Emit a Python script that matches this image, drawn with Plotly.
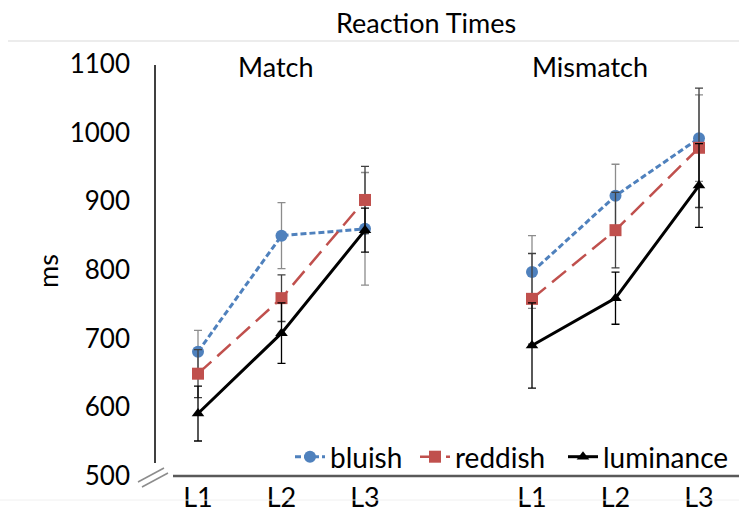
import plotly.graph_objects as go

# Reaction times (ms) per level, Match block then Mismatch block
levels = ["L1", "L2", "L3", "L1", "L2", "L3"]
level_pos = [0, 1, 2, 4, 5, 6]

bluish = [681, 850, 860, 797, 908, 992]
bluish_err = [31, 48, 82, 53, 46, 63]
reddish = [649, 759, 902, 758, 858, 978]
reddish_err = [35, 34, 49, 66, 55, 87]
luminance = [591, 708, 858, 690, 759, 923]
luminance_err = [40, 44, 32, 62, 38, 61]

y_ticks = [500, 600, 700, 800, 900, 1000, 1100]

W, H = 739, 515
ML, MR, MT, MB = 155, 0, 64, 39
FONT = "Lato"


def px(x):
    return (x - ML) / (W - ML - MR)


def py(y):
    return (H - MB - y) / (H - MT - MB)


fig = go.Figure()

# name, values, errors, colour, symbol, size, line style, error colour, legend id, legend left edge
series = [
    ("bluish", bluish, bluish_err, "#4F81BD", "circle", 12,
     dict(width=3, dash="6px,3px"), "#8c8c8c", "legend", 290),
    ("reddish", reddish, reddish_err, "#C0504D", "square", 12,
     dict(width=2.5, dash="18px,8px"), "#404040", "legend2", 415),
    ("luminance", luminance, luminance_err, "#000000", "triangle-up", 11,
     dict(width=3), "#000000", "legend3", 563),
]

legend_style = dict(orientation="h", xanchor="left", y=py(457), yanchor="middle",
                    bgcolor="rgba(0,0,0,0)", font=dict(size=28), itemwidth=30)

for name, vals, errs, color, symbol, size, line, ecolor, leg, leg_x in series:
    for block in (slice(0, 3), slice(3, 6)):
        fig.add_trace(go.Scatter(
            x=level_pos[block], y=vals[block],
            mode="lines+markers",
            name=name,
            legend=leg,
            legendgroup=name,
            showlegend=(block.start == 0),
            line=dict(color=color, **line),
            marker=dict(symbol=symbol, size=size, color=color, line=dict(width=0)),
            error_y=dict(type="data", array=errs[block], visible=True,
                         color=ecolor, thickness=1.3, width=4),
        ))
    fig.update_layout({leg: dict(x=px(leg_x), **legend_style)})

fig.update_layout(
    width=W, height=H,
    margin=dict(l=ML, r=MR, t=MT, b=MB),
    paper_bgcolor="white", plot_bgcolor="white",
    font=dict(family=FONT, size=27, color="#000000"),
    xaxis=dict(range=[-0.515, 6.479], tickmode="array", tickvals=level_pos, ticktext=levels,
               showgrid=False, zeroline=False, showline=False, ticks="",
               tickfont=dict(size=27), ticklabelstandoff=3),
    yaxis=dict(range=[500, 1100], tickmode="array", tickvals=y_ticks,
               showgrid=False, zeroline=False, showline=False, ticks="",
               tickfont=dict(size=26), ticklabelstandoff=24),
    showlegend=True,
)

shapes = [
    # frame line under the title
    dict(type="line", xref="paper", yref="paper", x0=px(8), x1=px(739), y0=py(41), y1=py(41),
         line=dict(color="#d9d9d9", width=1)),
    dict(type="line", xref="paper", yref="paper", x0=px(0), x1=px(739), y0=py(500), y1=py(500),
         line=dict(color="#f0f0f0", width=1)),
    # value axis, broken near the base
    dict(type="line", xref="paper", yref="paper", x0=0, x1=0, y0=py(463), y1=py(65),
         line=dict(color="#000000", width=1.5)),
    # category axis
    dict(type="line", xref="paper", yref="paper", x0=px(173), x1=px(739), y0=0, y1=0,
         line=dict(color="#595959", width=2.5)),
    # axis break marks
    dict(type="line", xref="paper", yref="paper", x0=px(138), x1=px(164), y0=py(482), y1=py(468),
         line=dict(color="#8c8c8c", width=1.5)),
    dict(type="line", xref="paper", yref="paper", x0=px(142), x1=px(168), y0=py(487), y1=py(473),
         line=dict(color="#8c8c8c", width=1.5)),
]
fig.update_layout(shapes=shapes)

annotations = [
    dict(text="Reaction Times", x=px(426), y=py(22)),
    dict(text="Match", x=px(275), y=py(66)),
    dict(text="Mismatch", x=px(590), y=py(66)),
    dict(text="ms", x=px(47), y=py(271), textangle=-90),
]
for a in annotations:
    fig.add_annotation(xref="paper", yref="paper", showarrow=False,
                       xanchor="center", yanchor="middle", font=dict(size=27), **a)

fig.write_html("out.html")
